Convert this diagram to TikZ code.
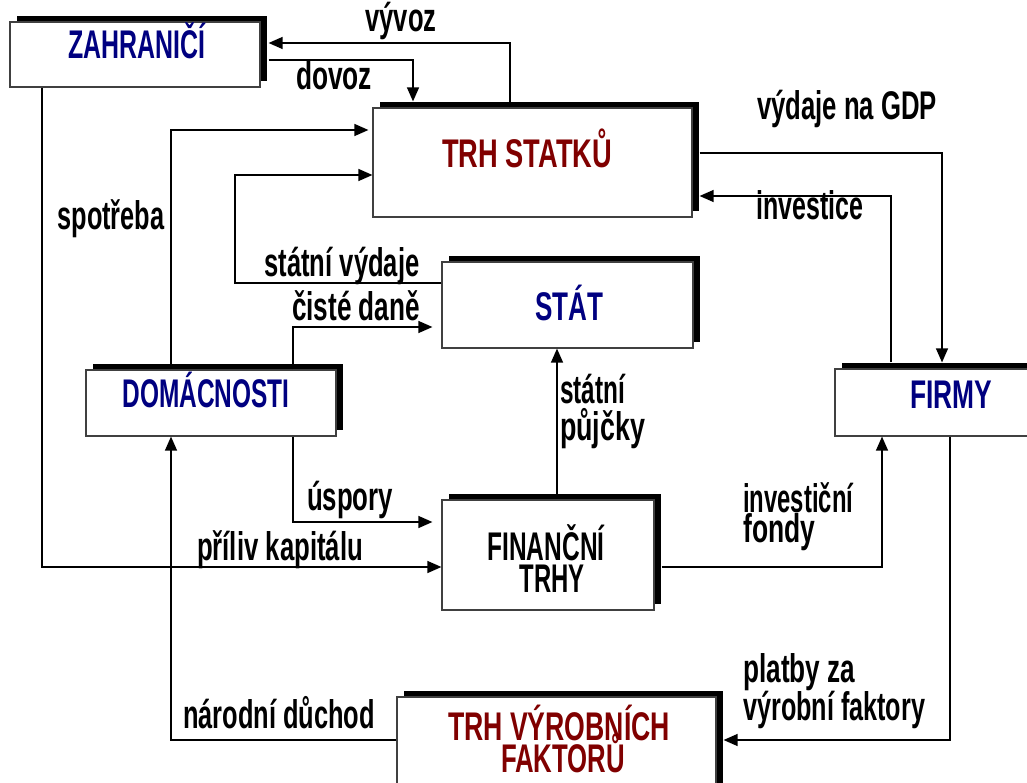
\documentclass[tikz,border=0pt]{standalone}
\usepackage{fontspec}
\setmainfont{Liberation Sans}
\usepackage{graphicx}
\usetikzlibrary{arrows.meta,shadows}
\definecolor{navyblue}{RGB}{0,0,128}
\definecolor{darkmaroon}{RGB}{128,0,0}
\newcommand{\sq}[2]{\resizebox{#1pt}{\height}{\fontsize{40}{44}\selectfont\bfseries #2}}
\begin{document}
\begin{tikzpicture}[x=1pt,y=-1pt,
  box/.style={draw=black!75, line width=1.2pt, fill=white, inner sep=0pt, rectangle,
    general shadow={fill=black, shadow xshift=7pt, shadow yshift=6pt}},
  arr/.style={-{Triangle[length=14pt,width=12pt]}, line width=1.3pt},
  lab/.style={inner sep=0pt, anchor=base},
  labw/.style={inner sep=0pt, anchor=base west}]
\useasboundingbox (0,0) rectangle (1027,783);
% boxes
\node[box, minimum width=250pt, minimum height=65pt] (zah) at (135,54.5) {};
\node[box, minimum width=319pt, minimum height=109pt] (ts) at (532.5,162.5) {};
\node[box, minimum width=251pt, minimum height=86pt] (stat) at (567.5,305) {};
\node[box, minimum width=250pt, minimum height=66pt] (dom) at (211,403) {};
\node[box, minimum width=250pt, minimum height=67pt] (fir) at (960,402.5) {};
\node[box, minimum width=212pt, minimum height=110pt] (fin) at (548,555) {};
\node[box, minimum width=319pt, minimum height=100pt] (tvf) at (556.5,747) {};
% box texts
\node[lab, text=navyblue] (tzah) at (137,59) {\sq{137}{ZAHRANIČÍ}};
\node[lab, text=darkmaroon] (tts) at (527,168) {\sq{170}{TRH STATKŮ}};
\node[lab, text=navyblue] (tstat) at (569,320) {\sq{68}{STÁT}};
\node[lab, text=navyblue] (tdom) at (206,407) {\sq{167}{DOMÁCNOSTI}};
\node[lab, text=navyblue] (tfir) at (951,408) {\sq{82}{FIRMY}};
\node[lab] (tfin1) at (546,560) {\sq{117}{FINANČNÍ}};
\node[lab] (tfin2) at (552,592) {\sq{65}{TRHY}};
\node[lab, text=darkmaroon] (ttvf1) at (559,740) {\sq{222}{TRH VÝROBNÍCH}};
\node[lab, text=darkmaroon] (ttvf2) at (563,772) {\sq{124}{FAKTORŮ}};
% connectors
\draw[arr] (ts.north -| 510,0) |- ([xshift=8pt]zah.east |- 0,43);
\draw[arr] ([xshift=8pt]zah.east |- 0,60) -| ([yshift=6pt]ts.north -| 413,0);
\draw[arr] ([xshift=7pt]ts.east |- 0,153) -| ([yshift=6pt]fir.north -| 942,0);
\draw[arr] ([yshift=6pt]fir.north -| 891,0) |- ([xshift=7pt]ts.east |- 0,196);
\draw[arr] (dom.north -| 171,0) |- ([xshift=-4pt]ts.west |- 0,130);
\draw[arr] (stat.west |- 0,283) -| (235,200) |- (ts.west |- 0,175);
\draw[arr] (dom.north -| 293,0) |- ([xshift=-9pt]stat.west |- 0,327);
\draw[arr] ([yshift=5pt]fin.north -| 557,0) -- (stat.south -| 557,0);
\draw[arr] (dom.south -| 293,0) |- ([xshift=-9pt]fin.west |- 0,522);
\draw[arr] (zah.south -| 42,0) |- (fin.west |- 0,567);
\draw[arr] ([xshift=7pt]fin.east |- 0,567) -| (fir.south -| 882,0);
\draw[arr] (fir.south -| 950,0) |- ([xshift=7pt]tvf.east |- 0,740);
\draw[arr] (tvf.west |- 0,740) -| (dom.south -| 171,0);
% labels
\node[lab] (lvyv) at (401,32) {\sq{71}{vývoz}};
\node[lab] (ldov) at (334,90) {\sq{76}{dovoz}};
\node[lab] (lgdp) at (847,120) {\sq{180}{výdaje na GDP}};
\node[lab] (linv) at (810,220) {\sq{107}{investice}};
\node[lab] (lspo) at (111,230) {\sq{107}{spotřeba}};
\node[lab] (lsvy) at (342,277) {\sq{155}{státní výdaje}};
\node[lab] (ldan) at (356,320) {\sq{128}{čisté daně}};
\node[labw] (lsp1) at (560,403) {\sq{65}{státní}};
\node[labw] (lsp2) at (560,440) {\sq{85}{půjčky}};
\node[lab] (lusp) at (350,510) {\sq{86}{úspory}};
\node[lab] (lpri) at (280,560) {\sq{166}{příliv kapitálu}};
\node[labw] (lif1) at (743,512) {\sq{110}{investiční}};
\node[labw] (lif2) at (743,542) {\sq{72}{fondy}};
\node[labw] (lpl1) at (743,682) {\sq{112}{platby za}};
\node[labw] (lpl2) at (743,720) {\sq{182}{výrobní faktory}};
\node[lab] (lnar) at (279,728) {\sq{192}{národní důchod}};
\end{tikzpicture}
\end{document}
